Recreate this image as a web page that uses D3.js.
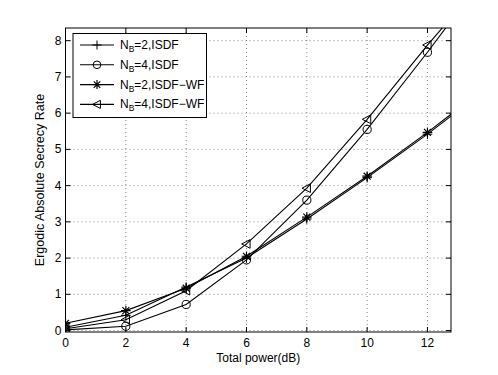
<!DOCTYPE html>
<html><head><meta charset="utf-8">
<script src="https://cdn.jsdelivr.net/npm/d3@7"></script>
<style>body{margin:0;background:#fff}svg{display:block}text{font-family:"Liberation Sans",Arial,sans-serif}</style>
</head><body>
<script>
const xValues = [0, 2, 4, 6, 8, 10, 12, 14];
const nb2Isdf   = [0.09, 0.42, 1.20, 2.00, 3.08, 4.22, 5.42, 6.70];
const nb4Isdf   = [0.02, 0.12, 0.72, 1.95, 3.60, 5.55, 7.68, 9.90];
const nb2IsdfWf = [0.20, 0.55, 1.17, 2.05, 3.13, 4.26, 5.47, 6.75];
const nb4IsdfWf = [0.05, 0.30, 1.10, 2.39, 3.93, 5.83, 7.88, 9.80];
const xTicks = [0, 2, 4, 6, 8, 10, 12];
const yTicks = [0, 1, 2, 3, 4, 5, 6, 7, 8];
const seriesNames = ["ISDF", "ISDF", "ISDF\u2212WF", "ISDF\u2212WF"];
const seriesNB = ["2", "4", "2", "4"];
const markers = ["plus", "circle", "star", "triangle"];

const W = 498, H = 375;
const m = {l: 65.5, r: 451, t: 28, b: 332};
const svg = d3.select("body").append("svg").attr("width", W).attr("height", H);
const x = d3.scaleLinear().domain([0, 12.78]).range([m.l, m.r]);
const y = d3.scaleLinear().domain([-0.04, 8.35]).range([m.b, m.t]);

// grid
const g = svg.append("g");
g.selectAll(".gx").data(xTicks.filter(d => d > 0)).enter().append("line")
  .attr("x1", d => x(d)).attr("x2", d => x(d)).attr("y1", m.t).attr("y2", m.b)
  .attr("stroke", "#555").attr("stroke-width", 0.7).attr("stroke-dasharray", "1,3");
g.selectAll(".gy").data(yTicks).enter().append("line")
  .attr("y1", d => y(d)).attr("y2", d => y(d)).attr("x1", m.l).attr("x2", m.r)
  .attr("stroke", "#555").attr("stroke-width", 0.7).attr("stroke-dasharray", "1,3");

// data lines
const series = [nb2Isdf, nb4Isdf, nb2IsdfWf, nb4IsdfWf];
svg.append("clipPath").attr("id", "clip").append("rect")
  .attr("x", m.l).attr("y", m.t).attr("width", m.r - m.l).attr("height", m.b - m.t);
const plot = svg.append("g").attr("clip-path", "url(#clip)");
const line = d3.line().x((d, i) => x(xValues[i])).y(d => y(d));

function drawMarker(sel, type, cx, cy, s) {
  let el;
  if (type === "plus") {
    el = sel.append("path").attr("d", `M${cx - s},${cy}H${cx + s}M${cx},${cy - s}V${cy + s}`);
  } else if (type === "circle") {
    el = sel.append("circle").attr("cx", cx).attr("cy", cy).attr("r", s * 0.85);
  } else if (type === "star") {
    const d = s * 0.72;
    el = sel.append("path").attr("d",
      `M${cx - s},${cy}H${cx + s}M${cx},${cy - s}V${cy + s}M${cx - d},${cy - d}L${cx + d},${cy + d}M${cx - d},${cy + d}L${cx + d},${cy - d}`);
  } else {
    el = sel.append("path").attr("d", `M${cx - s},${cy}L${cx + s * 0.75},${cy - s * 0.9}L${cx + s * 0.75},${cy + s * 0.9}Z`);
  }
  el.attr("stroke", "#000").attr("stroke-width", type === "star" ? 1.2 : 1).attr("fill", "none");
}

series.forEach((vals, k) => {
  plot.append("path").datum(vals).attr("d", line)
    .attr("fill", "none").attr("stroke", "#000").attr("stroke-width", 1.1);
  vals.forEach((v, i) => {
    drawMarker(plot, markers[k], x(xValues[i]), y(v), 4.8);
  });
});

// axes box
svg.append("rect").attr("x", m.l).attr("y", m.t).attr("width", m.r - m.l).attr("height", m.b - m.t)
  .attr("fill", "none").attr("stroke", "#000").attr("stroke-width", 1);

const tl = 5;
const ax = svg.append("g");
xTicks.forEach(t => {
  ax.append("line").attr("x1", x(t)).attr("x2", x(t)).attr("y1", m.b).attr("y2", m.b - tl).attr("stroke", "#000");
  ax.append("line").attr("x1", x(t)).attr("x2", x(t)).attr("y1", m.t).attr("y2", m.t + tl).attr("stroke", "#000");
  ax.append("text").attr("x", x(t)).attr("y", 347).attr("text-anchor", "middle")
    .attr("font-size", 12).text(t);
});
yTicks.forEach(t => {
  ax.append("line").attr("y1", y(t)).attr("y2", y(t)).attr("x1", m.l).attr("x2", m.l + tl).attr("stroke", "#000");
  ax.append("line").attr("y1", y(t)).attr("y2", y(t)).attr("x1", m.r).attr("x2", m.r - tl).attr("stroke", "#000");
  ax.append("text").attr("x", m.l - 4).attr("y", y(t) + 4).attr("text-anchor", "end")
    .attr("font-size", 12).text(t);
});

svg.append("text").attr("x", (m.l + m.r) / 2).attr("y", 362).attr("text-anchor", "middle")
  .attr("font-size", 12).text("Total power(dB)");
svg.append("text").attr("transform", `translate(44,${(m.t + m.b) / 2}) rotate(-90)`)
  .attr("text-anchor", "middle").attr("font-size", 12.5).text("Ergodic Absolute Secrecy Rate");

// legend
const lg = svg.append("g");
lg.append("rect").attr("x", 73).attr("y", 33.5).attr("width", 133.5).attr("height", 84)
  .attr("fill", "#fff").attr("stroke", "#000").attr("stroke-width", 1);
seriesNames.forEach((nm, k) => {
  const ly = 45 + k * 19.8;
  lg.append("line").attr("x1", 80).attr("x2", 114).attr("y1", ly).attr("y2", ly)
    .attr("stroke", "#000").attr("stroke-width", 1.1);
  drawMarker(lg, markers[k], 97, ly, 4.5);
  const t = lg.append("text").attr("x", 120).attr("y", ly + 4).attr("font-size", 12);
  t.append("tspan").text("N");
  t.append("tspan").attr("font-size", 8.5).attr("dy", 3).text("B");
  t.append("tspan").attr("dy", -3).text("=" + seriesNB[k] + "," + nm);
});
</script>
</body></html>
